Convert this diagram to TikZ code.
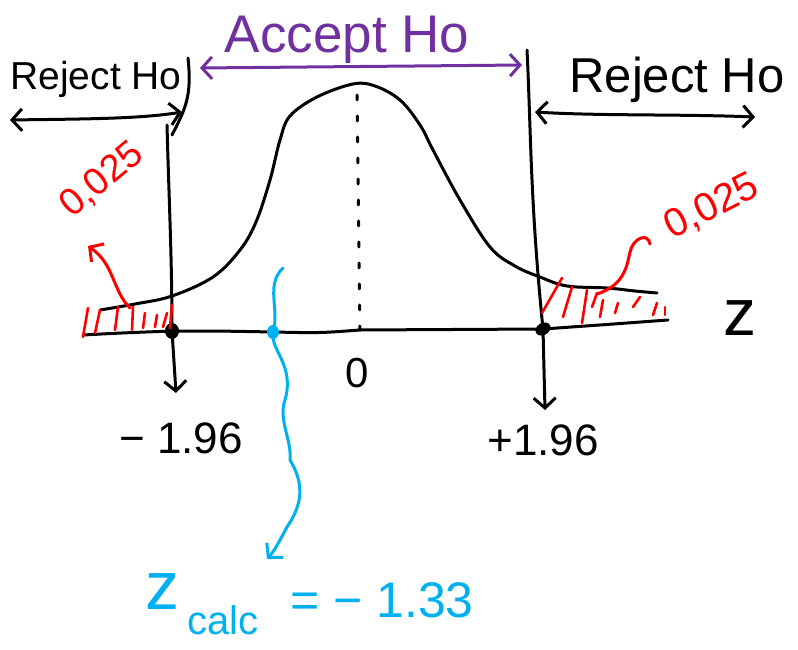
\documentclass[tikz,border=0pt]{standalone}
\usepackage{fontspec}
\setmainfont{Liberation Sans}
\usetikzlibrary{arrows.meta}
\definecolor{hpurple}{RGB}{112,48,160}
\definecolor{hblue}{RGB}{0,176,240}
\definecolor{hred}{RGB}{255,0,0}
\tikzset{
  pen/.style={line width=3pt, line cap=round, line join=round},
  barbend/.style={-{Straight Barb[length=10pt,width=22pt,line width=3pt]}},
  barbboth/.style={{Straight Barb[length=10pt,width=22pt,line width=3pt]}-{Straight Barb[length=10pt,width=22pt,line width=3pt]}},
  lbl/.style={inner sep=0pt, outer sep=0pt},
  hatch/.style={pen, hred, line width=2.6pt},
}
\begin{document}
\begin{tikzpicture}[x=1pt,y=-1pt]
\useasboundingbox (0,0) rectangle (798,650);
\fill[white] (0,0) rectangle (798,650);

% ---------- key points ----------
\coordinate (axL) at (83,335);
\coordinate (critL) at (172,331);
\coordinate (zc) at (273,332);
\coordinate (mid) at (360,330);
\coordinate (critR) at (543,329);
\coordinate (axR) at (668,320);

% ---------- axis ----------
\draw[pen] (axL) .. controls (120,333) .. (critL) .. controls (220,331) .. (zc)
  .. controls (320,333) .. (mid) -- (critR) .. controls (600,325) .. (axR);

% ---------- bell curve ----------
\draw[pen] plot[smooth, tension=0.6] coordinates {
  (100,310) (135,304) (172,296) (213,277) (240,250) (256,222) (270,180) (280,140)
  (290,116) (317,97) (353,84) (375,86) (400,100) (420,125) (433,150) (460,200)
  (490,247) (515,266) (540,277) (567,286) (607,288) (635,291) (657,293)};

% ---------- dotted centre line ----------
\coordinate (midtop) at (357,95);
\draw[pen, dash pattern=on 5pt off 16pt] (midtop) -- (mid);

% ---------- left critical line ----------
\coordinate (bL1) at (188,58);
\coordinate (bL2) at (172,135);
\coordinate (vL) at (167,125);
\coordinate (dL) at (176,393);
\draw[pen] (bL1) .. controls (192,95) and (186,108) .. (bL2);
\draw[pen] (vL) .. controls (169,200) and (172,260) .. (critL);
\draw[pen, barbend] (critL) -- (dL);
\fill (critL) ellipse (7pt and 8pt);

% ---------- right critical line ----------
\coordinate (vR) at (527,50);
\coordinate (dR) at (545,410);
\draw[pen] (vR) .. controls (531,130) and (530,200) .. (critR);
\draw[pen, barbend] (critR) -- (dR);
\fill[rotate around={30:(critR)}] (critR) ellipse (8pt and 6pt);

% ---------- region arrows ----------
\coordinate (aL1) at (10,120);
\coordinate (aL2) at (182,112);
\draw[pen, barbboth] (aL1) .. controls (80,119) and (140,119) .. (aL2);
\coordinate (aR1) at (535,112);
\coordinate (aR2) at (755,117);
\draw[pen, barbboth] (aR1) .. controls (600,116) and (680,114) .. (aR2);
\coordinate (pA1) at (200,68);
\coordinate (pA2) at (522,65);
\draw[pen, hpurple, barbboth] (pA1) -- (pA2);

% ---------- labels ----------
\node[lbl] (rejL) at (96,79) {\fontsize{39}{44}\selectfont Reject Ho};
\node[lbl] (rejR) at (677,80) {\fontsize{49}{54}\selectfont Reject Ho};
\node[lbl, text=hpurple] (acc) at (347,40) {\fontsize{53}{58}\selectfont Accept Ho};
\node[lbl] (zero) at (357,373) {\fontsize{42}{46}\selectfont 0};
\node[lbl] (m196) at (181,438) {\fontsize{44}{48}\selectfont − 1.96};
\node[lbl] (p196) at (543,440) {\fontsize{44}{48}\selectfont +1.96};
\node[lbl] (zlab) at (740,318) {\fontsize{66}{70}\selectfont z};

% ---------- red hatching ----------
\foreach \a/\b/\c/\d in {83/337/88/308, 95/333/100/310, 115/330/118/307, 132/330/133/307,
  143/328/145/313, 155/327/157/315, 163/327/167/313, 170/328/172/305}
  \draw[hatch] (\a,\b) -- (\c,\d);
\foreach \a/\b/\c/\d in {542/313/562/278, 563/317/572/287, 582/323/587/290, 592/307/597/293,
  600/317/603/300, 615/313/618/303, 633/307/640/297, 653/315/657/303, 665/315/665/307}
  \draw[hatch] (\a,\b) -- (\c,\d);

% red arrows and labels
\node[lbl, text=hred, rotate=40] (aL) at (102,180) {\fontsize{38}{42}\selectfont 0,025};
\node[lbl, text=hred, rotate=27] (aR) at (712,207) {\fontsize{40}{44}\selectfont 0,025};
\coordinate (rs1) at (130,308);
\coordinate (rt1) at (88,246);
\draw[pen, hred, barbend] (rs1) .. controls (112,290) and (115,265) .. (rt1);
\coordinate (rs2) at (597,294);
\coordinate (rt2) at (650,244);
\draw[pen, hred] (rs2) .. controls (625,285) and (627,265) .. (630,252)
  .. controls (633,238) and (648,232) .. (rt2);

% ---------- blue z calc ----------
\fill[hblue] (zc) ellipse (6pt and 7pt);
\coordinate (bw0) at (283,268);
\coordinate (bwt) at (267,559);
\draw[pen, hblue, barbend] (bw0) .. controls (265,285) and (280,310) .. (zc)
  .. controls (270,350) and (295,365) .. (285,400)
  .. controls (278,420) and (292,440) .. (290,460)
  .. controls (305,485) and (302,505) .. (287,527)
  .. controls (280,540) and (275,550) .. (bwt);
\node[lbl, text=hblue] (zcz) at (162,592) {\fontsize{68}{72}\selectfont z};
\node[lbl, text=hblue] (zcc) at (223,620) {\fontsize{40}{44}\selectfont calc};
\node[lbl, text=hblue] (zcv) at (382,600) {\fontsize{50}{54}\selectfont = − 1.33};
\end{tikzpicture}
\end{document}
